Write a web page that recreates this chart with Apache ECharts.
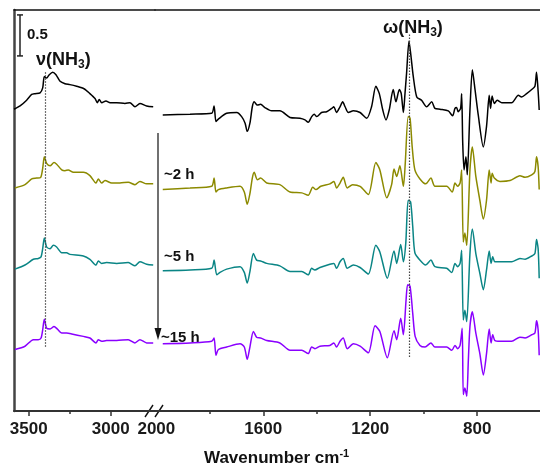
<!DOCTYPE html>
<html>
<head>
<meta charset="utf-8">
<script src="https://cdn.jsdelivr.net/npm/echarts@6/dist/echarts.min.js"></script>
<style>
html,body{margin:0;padding:0;background:#fff}
#chart{width:540px;height:468px}
</style>
</head>
<body>
<div id="chart"></div>
<script>
// IR difference spectra (absorbance vs wavenumber), stacked by adsorption time.
// Two axis segments: N-H stretch region and 2000 cm-1 downwards.

const traceNames = ['0 h', '~2 h', '~5 h', '~15 h'];
const traceColors = ['#000000', '#8c8a00', '#0a8585', '#8a00ff'];

const leftLabelTicks = [3500, 3000];
const leftMinorTicks = [3250];
const rightLabelTicks = [2000, 1600, 1200, 800];
const rightMajorTicks = [1600, 1200, 800];
const rightMinorTicks = [1800, 1400, 1000];

// N-H stretching region (cm-1, absorbance)
const stretch0h = [[3590,3.68],[3553,3.72],[3513,3.79],[3482,3.86],[3462,3.87],[3431,3.88],[3415,3.94],[3405,4.08],[3391,4.06],[3375,4.10],[3354,4.13],[3334,4.10],[3309,4.02],[3279,3.99],[3249,3.98],[3208,3.96],[3163,3.93],[3127,3.87],[3096,3.81],[3082,3.76],[3070,3.80],[3055,3.76],[3029,3.78],[3004,3.76],[2964,3.76],[2913,3.75],[2883,3.76],[2852,3.71],[2822,3.75],[2781,3.72],[2741,3.71]];
const stretch2h = [[3584,2.72],[3523,2.76],[3482,2.83],[3452,2.84],[3427,2.85],[3415,2.96],[3405,3.10],[3391,3.02],[3370,2.99],[3346,3.03],[3330,3.01],[3299,2.94],[3279,2.93],[3259,2.94],[3228,2.91],[3167,2.91],[3127,2.87],[3090,2.78],[3076,2.83],[3055,2.78],[3035,2.81],[2994,2.78],[2944,2.78],[2893,2.79],[2852,2.76],[2822,2.80],[2781,2.77],[2741,2.77]];
const stretch5h = [[3584,1.73],[3523,1.78],[3472,1.85],[3442,1.86],[3425,1.88],[3415,1.98],[3405,2.11],[3391,2.00],[3370,1.98],[3350,2.02],[3330,2.00],[3299,1.93],[3269,1.93],[3249,1.91],[3167,1.89],[3127,1.85],[3090,1.78],[3076,1.83],[3055,1.80],[3025,1.81],[2964,1.80],[2893,1.81],[2852,1.77],[2822,1.82],[2781,1.79],[2741,1.78]];
const stretch15h = [[3584,0.75],[3523,0.79],[3472,0.87],[3442,0.87],[3425,0.89],[3415,0.99],[3405,1.12],[3391,1.01],[3370,1.00],[3346,1.03],[3326,1.00],[3299,0.95],[3269,0.95],[3238,0.94],[3167,0.91],[3127,0.89],[3090,0.83],[3076,0.87],[3055,0.85],[3025,0.86],[2964,0.86],[2893,0.87],[2852,0.83],[2822,0.87],[2781,0.83],[2741,0.83]];

// Fingerprint region (cm-1, absorbance)
const finger0h = [[1976,3.61],[1874,3.62],[1793,3.63],[1784,3.72],[1777,3.53],[1768,3.56],[1737,3.63],[1699,3.64],[1681,3.59],[1668,3.51],[1660,3.41],[1650,3.51],[1641,3.71],[1634,3.77],[1622,3.73],[1610,3.74],[1594,3.70],[1569,3.66],[1538,3.66],[1500,3.58],[1463,3.57],[1444,3.55],[1432,3.52],[1419,3.59],[1410,3.62],[1400,3.59],[1382,3.64],[1363,3.65],[1344,3.69],[1336,3.71],[1326,3.64],[1313,3.71],[1303,3.77],[1294,3.71],[1282,3.64],[1263,3.66],[1238,3.64],[1213,3.57],[1195,3.71],[1179,3.96],[1166,3.87],[1153,3.67],[1141,3.55],[1129,3.67],[1114,3.92],[1104,3.77],[1091,3.92],[1084,3.87],[1076,3.64],[1070,3.87],[1064,4.12],[1055,4.51],[1048,4.34],[1039,4.08],[1026,3.83],[1008,3.79],[989,3.71],[970,3.77],[958,3.69],[939,3.68],[908,3.66],[892,3.60],[883,3.69],[877,3.70],[871,3.65],[862,3.69],[858,3.87],[854,3.27],[849,2.94],[842,3.10],[837,2.88],[827,3.67],[818,4.16],[808,3.92],[796,3.61],[777,3.22],[765,3.47],[755,3.85],[750,3.69],[744,3.84],[736,3.75],[725,3.79],[708,3.76],[671,3.76],[646,3.85],[634,3.83],[615,3.87],[596,3.92],[584,3.96],[578,4.13],[572,3.90],[568,3.67]];
const finger2h = [[1976,2.70],[1874,2.72],[1793,2.74],[1784,2.84],[1777,2.67],[1768,2.70],[1737,2.72],[1687,2.74],[1671,2.67],[1660,2.52],[1650,2.65],[1641,2.84],[1634,2.91],[1622,2.82],[1610,2.84],[1587,2.78],[1538,2.76],[1500,2.67],[1456,2.66],[1432,2.63],[1415,2.73],[1403,2.70],[1385,2.74],[1351,2.77],[1336,2.80],[1326,2.72],[1313,2.78],[1301,2.85],[1286,2.72],[1266,2.76],[1238,2.74],[1207,2.64],[1179,3.03],[1164,2.94],[1138,2.60],[1120,2.76],[1111,2.95],[1101,2.86],[1089,2.99],[1076,2.74],[1069,3.02],[1058,3.59],[1051,3.57],[1043,3.22],[1033,2.94],[1014,2.83],[992,2.77],[973,2.84],[958,2.74],[914,2.74],[893,2.67],[883,2.78],[873,2.74],[864,2.78],[858,2.94],[852,2.06],[846,2.17],[839,2.02],[827,2.94],[818,3.22],[805,2.86],[790,2.57],[777,2.34],[765,2.57],[755,2.94],[748,2.78],[744,2.90],[736,2.84],[715,2.80],[677,2.81],[640,2.87],[621,2.85],[596,2.88],[584,2.92],[578,3.10],[572,2.98],[568,2.70]];
const finger5h = [[1976,1.71],[1874,1.72],[1793,1.74],[1784,1.84],[1774,1.66],[1762,1.69],[1737,1.73],[1687,1.76],[1671,1.69],[1660,1.56],[1650,1.70],[1637,1.92],[1625,1.84],[1610,1.83],[1587,1.80],[1538,1.77],[1500,1.70],[1456,1.70],[1432,1.66],[1419,1.74],[1407,1.72],[1388,1.75],[1351,1.79],[1336,1.80],[1326,1.74],[1313,1.82],[1301,1.86],[1286,1.74],[1263,1.78],[1238,1.75],[1207,1.67],[1179,2.02],[1164,1.94],[1136,1.62],[1111,1.95],[1101,1.80],[1086,2.03],[1076,1.82],[1067,2.05],[1058,2.57],[1049,2.55],[1041,2.25],[1033,1.93],[1014,1.84],[993,1.78],[973,1.84],[958,1.76],[914,1.74],[895,1.69],[883,1.80],[873,1.76],[864,1.80],[858,1.96],[852,1.11],[846,1.23],[839,1.09],[827,1.92],[818,2.22],[805,1.92],[790,1.68],[777,1.48],[765,1.72],[755,1.95],[748,1.80],[742,1.88],[734,1.82],[715,1.82],[671,1.82],[640,1.86],[621,1.85],[596,1.89],[584,1.92],[578,2.09],[572,1.98],[568,1.62]];
const finger15h = [[1976,0.82],[1874,0.83],[1793,0.85],[1784,0.89],[1777,0.68],[1768,0.75],[1737,0.78],[1687,0.82],[1671,0.78],[1660,0.63],[1650,0.78],[1637,0.97],[1625,0.90],[1610,0.89],[1587,0.86],[1538,0.83],[1500,0.74],[1456,0.74],[1432,0.70],[1419,0.78],[1407,0.76],[1388,0.79],[1351,0.80],[1336,0.83],[1326,0.78],[1313,0.85],[1301,0.89],[1286,0.76],[1263,0.82],[1238,0.79],[1207,0.71],[1182,1.04],[1164,0.97],[1136,0.65],[1111,0.98],[1101,0.87],[1086,1.13],[1076,0.93],[1066,1.35],[1060,1.54],[1051,1.52],[1041,1.19],[1032,0.91],[1014,0.80],[995,0.78],[973,0.83],[958,0.78],[914,0.78],[895,0.74],[883,0.80],[873,0.76],[864,0.80],[856,1.01],[852,0.20],[846,0.28],[839,0.18],[833,0.62],[827,1.03],[818,1.21],[805,0.95],[790,0.70],[777,0.44],[765,0.70],[755,1.00],[748,0.83],[742,0.93],[734,0.86],[715,0.85],[671,0.85],[640,0.90],[621,0.89],[596,0.93],[584,0.95],[578,1.10],[572,0.99],[568,0.68]];

// Band assignment guides: [wavenumber, absorbance from, absorbance to]
const nuGuide = [3401, 4.13, 0.77];
const omegaGuide = [1055, 4.59, 0.66];

const stretchSets = [stretch0h, stretch2h, stretch5h, stretch15h];
const fingerSets = [finger0h, finger2h, finger5h, finger15h];

const yMin = 0, yMax = 4.89;
const axisColor = '#333';
const font = '"Liberation Sans", Arial, sans-serif';

const chart = echarts.init(document.getElementById('chart'), null, {renderer: 'canvas'});

const plainNumber = function (v) { return String(v); };

function bottomAxis(grid, min, max, labels, ticks) {
  return {
    type: 'value', gridIndex: grid, position: 'bottom', inverse: true, min: min, max: max,
    axisLine: {show: true, lineStyle: {color: axisColor, width: 2}},
    axisTick: {show: true, customValues: ticks, length: 5, lineStyle: {color: axisColor, width: 1.5}},
    axisLabel: {show: true, customValues: labels, formatter: plainNumber, margin: 10, fontSize: 17,
                fontWeight: 'bold', color: '#1a1a1a', fontFamily: font},
    splitLine: {show: false}
  };
}
function minorAxis(grid, min, max, ticks) {
  return {
    type: 'value', gridIndex: grid, position: 'bottom', inverse: true, min: min, max: max,
    axisLine: {show: false},
    axisTick: {show: true, customValues: ticks, length: 3, lineStyle: {color: axisColor, width: 1.5}},
    axisLabel: {show: false}, splitLine: {show: false}
  };
}
function topAxis(grid, min, max) {
  return {
    type: 'value', gridIndex: grid, position: 'top', inverse: true, min: min, max: max,
    axisLine: {show: true, lineStyle: {color: '#111', width: 1.5}},
    axisTick: {show: false}, axisLabel: {show: false}, splitLine: {show: false}
  };
}
function guideLine(g) {
  return {
    silent: true, symbol: 'none', label: {show: false},
    lineStyle: {color: '#444', type: [1.5, 1.5], width: 1.2},
    data: [[{coord: [g[0], g[1]]}, {coord: [g[0], g[2]]}]]
  };
}

const series = [];
stretchSets.forEach(function (d, i) {
  series.push({
    name: traceNames[i], type: 'line', xAxisIndex: 0, yAxisIndex: 0, data: d,
    showSymbol: false, smooth: 0.25, lineStyle: {color: traceColors[i], width: 1.5},
    markLine: i === 0 ? guideLine(nuGuide) : undefined
  });
});
fingerSets.forEach(function (d, i) {
  series.push({
    name: traceNames[i], type: 'line', xAxisIndex: 3, yAxisIndex: 1, data: d,
    showSymbol: false, smooth: 0.25, lineStyle: {color: traceColors[i], width: 1.5},
    markLine: i === 0 ? guideLine(omegaGuide) : undefined
  });
});

chart.setOption({
  animation: false,
  backgroundColor: '#fff',
  grid: [
    {left: 14, top: 10, width: 141, height: 401},
    {left: 155, top: 10, width: 385, height: 401}
  ],
  xAxis: [
    bottomAxis(0, 2730, 3590, leftLabelTicks, leftLabelTicks),
    minorAxis(0, 2730, 3590, leftMinorTicks),
    topAxis(0, 2730, 3590),
    bottomAxis(1, 565, 2005, rightLabelTicks, rightMajorTicks),
    minorAxis(1, 565, 2005, rightMinorTicks),
    topAxis(1, 565, 2005)
  ],
  yAxis: [
    {type: 'value', gridIndex: 0, min: yMin, max: yMax,
     axisLine: {show: true, lineStyle: {color: '#444', width: 2.5}},
     axisTick: {show: false}, axisLabel: {show: false}, splitLine: {show: false}},
    {type: 'value', gridIndex: 1, min: yMin, max: yMax,
     axisLine: {show: false}, axisTick: {show: false}, axisLabel: {show: false}, splitLine: {show: false}}
  ],
  series: series
});

// Annotations: scale bar, band labels, time arrow, axis break, axis title
const barTop = chart.convertToPixel({gridIndex: 0}, [3550, 4.83]);
const barBot = chart.convertToPixel({gridIndex: 0}, [3550, 4.33]);
const bx = 20;
const boldText = function (x, y, text, size, align) {
  return {type: 'text', x: x, y: y, style: {text: text, fill: '#111', font: 'bold ' + size + 'px ' + font,
          textAlign: align || 'left', textVerticalAlign: 'middle'}};
};
// label with a lowered/raised small part, e.g. NH3 subscript
const scriptText = function (x, y, main, small, tail, size, smallSize, shift) {
  return {
    type: 'text', x: x, y: y,
    style: {
      text: '{m|' + main + '}{s|' + small + '}' + (tail ? '{m|' + tail + '}' : ''),
      textAlign: 'left', textVerticalAlign: 'middle',
      rich: {
        m: {fontFamily: font, fontWeight: 'bold', fontSize: size, fill: '#111', lineHeight: size + 2, verticalAlign: 'middle'},
        s: {fontFamily: font, fontWeight: 'bold', fontSize: smallSize, fill: '#111', lineHeight: smallSize,
            padding: shift > 0 ? [shift, 0, 0, 0] : [0, 0, -shift, 0], verticalAlign: 'middle'}
      }
    }
  };
};
chart.setOption({
  graphic: [
    {type: 'line', shape: {x1: bx, y1: barTop[1], x2: bx, y2: barBot[1]}, style: {stroke: '#222', lineWidth: 1.5}},
    {type: 'line', shape: {x1: bx - 3, y1: barTop[1], x2: bx + 3, y2: barTop[1]}, style: {stroke: '#222', lineWidth: 1.5}},
    {type: 'line', shape: {x1: bx - 3, y1: barBot[1], x2: bx + 3, y2: barBot[1]}, style: {stroke: '#222', lineWidth: 1.5}},
    boldText(27, 35, '0.5', 15),
    scriptText(36, 60, 'ν(NH', '3', ')', 18, 12, 9),
    scriptText(383, 28, 'ω(NH', '3', ')', 18, 12, 9),
    {type: 'line', shape: {x1: 158, y1: 133, x2: 158, y2: 336}, style: {stroke: '#111', lineWidth: 1.2}},
    {type: 'polygon', shape: {points: [[154.5, 328], [161.5, 328], [158, 340]]}, style: {fill: '#111'}},
    boldText(164, 175, '~2 h', 15),
    boldText(164, 257, '~5 h', 15),
    boldText(161, 338, '~15 h', 15),
    {type: 'rect', shape: {x: 150, y: 408, width: 7, height: 6}, style: {fill: '#fff'}},
    {type: 'line', shape: {x1: 145, y1: 417, x2: 153, y2: 405}, style: {stroke: '#111', lineWidth: 1.4}},
    {type: 'line', shape: {x1: 155, y1: 417, x2: 163, y2: 405}, style: {stroke: '#111', lineWidth: 1.4}},
    scriptText(204, 458, 'Wavenumber cm', '-1', '', 17, 11, -9)
  ]
});
</script>
</body>
</html>
